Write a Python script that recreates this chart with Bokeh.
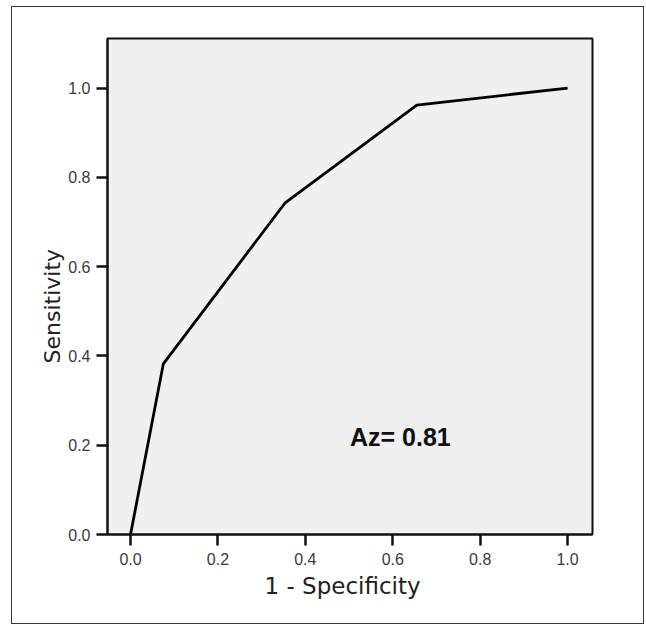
from bokeh.plotting import figure
from bokeh.models import Range1d, FixedTicker, ColumnDataSource, Title
from bokeh.core.properties import value
from bokeh.embed import file_html
from bokeh.resources import INLINE

# ROC curve points
fpr = [0.0, 0.075, 0.353, 0.655, 1.0]
tpr = [0.0, 0.382, 0.742, 0.962, 1.0]
ticks = [0.0, 0.2, 0.4, 0.6, 0.8, 1.0]
x_title = "1 - Specificity"
y_title = "Sensitivity"
az_label = ["Az= 0.81"]
az_x = [0.502]
az_y = [0.2195]

p = figure(frame_width=485, frame_height=496,
           min_border_left=95, min_border_top=31,
           min_border_right=51, min_border_bottom=89,
           x_range=Range1d(-0.0527, 1.057), y_range=Range1d(0.0, 1.111),
           output_backend="svg", toolbar_location=None,
           background_fill_color="#f0f0f0", border_fill_color="white")
p.styles = {"border": "1.5px solid #3a3a3a", "margin-left": "11px", "margin-top": "6px"}

p.grid.visible = False
p.outline_line_color = "#111111"
p.outline_line_width = 2

for ax in (p.xaxis[0], p.yaxis[0]):
    ax.ticker = FixedTicker(ticks=ticks)
    ax.major_label_overrides = {t: f"{t:.1f}" for t in ticks}
    ax.minor_tick_line_color = None
    ax.major_tick_in = 0
    ax.major_tick_out = 11
    ax.major_tick_line_width = 2.5
    ax.major_tick_line_color = "#111111"
    ax.axis_line_color = "#111111"
    ax.axis_line_width = 2
    ax.major_label_text_font = "Liberation Sans"
    ax.major_label_text_font_size = "16px"
    ax.major_label_text_color = "#3a3a3a"

p.xaxis.major_label_standoff = 7
p.yaxis.major_label_standoff = 6

# axis titles as side titles so they can be shifted along the axis
xt = Title(text=x_title, align="left", offset=157, standoff=6,
           text_font="DejaVu Sans", text_font_size="23px",
           text_font_style="normal", text_color="#222222")
yt = Title(text=y_title, align="left", offset=171, standoff=2,
           text_font="DejaVu Sans", text_font_size="22px",
           text_font_style="normal", text_color="#222222")
p.add_layout(xt, "below")
p.add_layout(yt, "left")

src = ColumnDataSource(dict(x=fpr, y=tpr))
p.line("x", "y", source=src, line_color="black", line_width=2.8)

tsrc = ColumnDataSource(dict(x=az_x, y=az_y, t=az_label))
p.text("x", "y", text="t", source=tsrc, text_font=value("Liberation Sans"),
       text_font_size="25px", text_font_style="bold", text_color="#111111",
       text_align="left", text_baseline="middle")

open("out.html", "w").write(file_html(p, INLINE))
